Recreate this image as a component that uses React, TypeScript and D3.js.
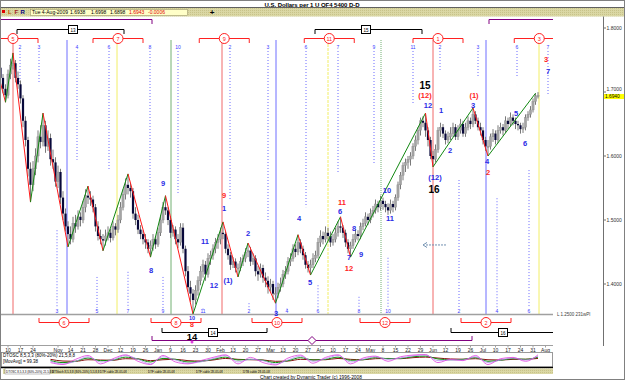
import React from "react";
import * as d3 from "d3";

// ---------- DATA ----------
const opens = [1.738,1.722,1.705,1.695,1.728,1.742,1.745,1.722,1.712,1.690,
1.655,1.625,1.580,1.555,1.580,1.600,1.630,1.622,1.648,1.615,
1.628,1.595,1.590,1.560,1.575,1.535,1.510,1.490,1.478,1.470,
1.495,1.490,1.505,1.500,1.520,1.538,1.535,1.532,1.520,1.490,
1.475,1.470,1.468,1.475,1.480,1.472,1.490,1.485,1.500,1.520,
1.540,1.555,1.550,1.545,1.510,1.500,1.485,1.478,1.470,1.465,
1.455,1.460,1.470,1.462,1.480,1.500,1.520,1.515,1.500,1.480,
1.485,1.470,1.465,1.488,1.455,1.420,1.395,1.385,1.375,1.390,
1.405,1.420,1.430,1.415,1.440,1.445,1.455,1.465,1.470,1.480,
1.478,1.455,1.445,1.430,1.435,1.425,1.425,1.435,1.440,1.450,
1.452,1.435,1.440,1.420,1.415,1.425,1.410,1.405,1.395,1.400,
1.385,1.385,1.395,1.400,1.415,1.420,1.435,1.440,1.455,1.450,
1.465,1.455,1.445,1.430,1.425,1.430,1.440,1.445,1.465,1.475,
1.470,1.480,1.475,1.465,1.470,1.480,1.490,1.488,1.480,1.465,
1.455,1.460,1.470,1.478,1.475,1.490,1.495,1.505,1.500,1.510,
1.515,1.525,1.520,1.530,1.525,1.520,1.515,1.525,1.520,1.535,
1.555,1.570,1.585,1.590,1.595,1.600,1.615,1.625,1.640,1.655,
1.652,1.640,1.625,1.600,1.595,1.610,1.640,1.645,1.635,1.625,
1.630,1.635,1.645,1.630,1.640,1.650,1.635,1.645,1.655,1.650,
1.665,1.655,1.645,1.640,1.625,1.615,1.615,1.630,1.635,1.625,
1.640,1.645,1.640,1.655,1.650,1.660,1.655,1.650,1.648,1.642,
1.645,1.660,1.665,1.672,1.685,1.6938];
const highs = [1.745,1.728,1.712,1.735,1.752,1.761,1.750,1.732,1.718,1.695,
1.662,1.630,1.590,1.592,1.612,1.640,1.648,1.667,1.655,1.640,
1.635,1.610,1.598,1.585,1.580,1.545,1.518,1.498,1.490,1.505,
1.508,1.515,1.512,1.530,1.548,1.553,1.545,1.538,1.525,1.498,
1.485,1.478,1.485,1.490,1.486,1.498,1.495,1.508,1.528,1.548,
1.565,1.572,1.558,1.550,1.520,1.508,1.492,1.484,1.478,1.470,
1.468,1.478,1.475,1.488,1.508,1.528,1.538,1.520,1.506,1.492,
1.490,1.478,1.495,1.495,1.460,1.428,1.405,1.392,1.398,1.412,
1.428,1.438,1.436,1.448,1.452,1.462,1.472,1.478,1.488,1.497,
1.482,1.462,1.450,1.442,1.440,1.432,1.442,1.446,1.456,1.464,
1.458,1.448,1.445,1.428,1.432,1.430,1.418,1.412,1.408,1.405,
1.395,1.402,1.410,1.422,1.428,1.442,1.448,1.462,1.462,1.477,
1.470,1.460,1.450,1.436,1.438,1.448,1.452,1.472,1.484,1.482,
1.490,1.488,1.482,1.478,1.488,1.498,1.505,1.492,1.485,1.470,
1.466,1.478,1.485,1.484,1.496,1.502,1.512,1.510,1.518,1.522,
1.532,1.530,1.538,1.535,1.530,1.526,1.532,1.530,1.540,1.560,
1.575,1.590,1.596,1.600,1.606,1.620,1.632,1.645,1.660,1.662,
1.667,1.645,1.630,1.608,1.618,1.645,1.652,1.650,1.640,1.638,
1.645,1.652,1.650,1.648,1.658,1.655,1.652,1.662,1.660,1.675,
1.670,1.660,1.652,1.645,1.630,1.625,1.635,1.642,1.640,1.648,
1.652,1.650,1.662,1.660,1.668,1.665,1.660,1.655,1.652,1.652,
1.665,1.670,1.678,1.690,1.698,1.6998];
const lows = [1.714,1.698,1.684,1.690,1.720,1.735,1.715,1.705,1.682,1.645,
1.615,1.568,1.528,1.545,1.570,1.590,1.612,1.615,1.605,1.608,
1.585,1.580,1.552,1.550,1.525,1.500,1.482,1.458,1.462,1.465,
1.480,1.485,1.490,1.495,1.512,1.525,1.522,1.512,1.482,1.468,
1.462,1.452,1.460,1.468,1.465,1.468,1.476,1.480,1.495,1.515,
1.532,1.540,1.535,1.502,1.492,1.478,1.470,1.462,1.455,1.448,
1.442,1.452,1.455,1.458,1.475,1.495,1.508,1.492,1.472,1.474,
1.462,1.456,1.460,1.448,1.412,1.388,1.372,1.353,1.368,1.382,
1.398,1.410,1.405,1.410,1.430,1.438,1.448,1.455,1.462,1.470,
1.448,1.438,1.422,1.425,1.418,1.411,1.420,1.428,1.434,1.442,
1.428,1.430,1.412,1.405,1.410,1.402,1.395,1.385,1.388,1.375,
1.370,1.378,1.388,1.395,1.408,1.415,1.428,1.435,1.442,1.445,
1.448,1.438,1.424,1.418,1.414,1.425,1.434,1.440,1.458,1.462,
1.465,1.468,1.458,1.460,1.465,1.474,1.480,1.472,1.458,1.448,
1.442,1.455,1.465,1.468,1.470,1.484,1.490,1.492,1.495,1.504,
1.510,1.512,1.515,1.516,1.512,1.508,1.510,1.512,1.515,1.530,
1.548,1.562,1.575,1.580,1.585,1.595,1.608,1.618,1.632,1.645,
1.630,1.615,1.595,1.583,1.590,1.605,1.630,1.628,1.618,1.620,
1.625,1.630,1.625,1.625,1.635,1.630,1.630,1.640,1.642,1.645,
1.650,1.640,1.632,1.618,1.608,1.600,1.610,1.622,1.618,1.620,
1.635,1.632,1.636,1.642,1.646,1.648,1.642,1.640,1.635,1.636,
1.640,1.655,1.660,1.668,1.680,1.6898];
const closes = [1.722,1.705,1.695,1.728,1.742,1.745,1.722,1.712,1.690,1.655,
1.625,1.580,1.555,1.580,1.600,1.630,1.622,1.648,1.615,1.628,
1.595,1.590,1.560,1.575,1.535,1.510,1.490,1.478,1.470,1.495,
1.490,1.505,1.500,1.520,1.538,1.535,1.532,1.520,1.490,1.475,
1.470,1.468,1.475,1.480,1.472,1.490,1.485,1.500,1.520,1.540,
1.555,1.550,1.545,1.510,1.500,1.485,1.478,1.470,1.465,1.455,
1.460,1.470,1.462,1.480,1.500,1.520,1.515,1.500,1.480,1.485,
1.470,1.465,1.488,1.455,1.420,1.395,1.385,1.375,1.390,1.405,
1.420,1.430,1.415,1.440,1.445,1.455,1.465,1.470,1.480,1.478,
1.455,1.445,1.430,1.435,1.425,1.425,1.435,1.440,1.450,1.452,
1.435,1.440,1.420,1.415,1.425,1.410,1.405,1.395,1.400,1.385,
1.385,1.395,1.400,1.415,1.420,1.435,1.440,1.455,1.450,1.465,
1.455,1.445,1.430,1.425,1.430,1.440,1.445,1.465,1.475,1.470,
1.480,1.475,1.465,1.470,1.480,1.490,1.488,1.480,1.465,1.455,
1.460,1.470,1.478,1.475,1.490,1.495,1.505,1.500,1.510,1.515,
1.525,1.520,1.530,1.525,1.520,1.515,1.525,1.520,1.535,1.555,
1.570,1.585,1.590,1.595,1.600,1.615,1.625,1.640,1.655,1.652,
1.640,1.625,1.600,1.595,1.610,1.640,1.645,1.635,1.625,1.630,
1.635,1.645,1.630,1.640,1.650,1.635,1.645,1.655,1.650,1.665,
1.655,1.645,1.640,1.625,1.615,1.615,1.630,1.635,1.625,1.640,
1.645,1.640,1.655,1.650,1.660,1.655,1.650,1.648,1.642,1.645,
1.660,1.665,1.672,1.685,1.694,1.6943];

const pivotDays = [0,2,5,12,17,27,35,41,51,60,66,77,89,95,99,110,119,124,136,140,170,173,189,195,214];
const pivotPrices = [1.714,1.684,1.761,1.528,1.667,1.458,1.553,1.452,1.572,1.442,1.538,1.353,1.497,1.411,1.464,1.370,1.477,1.414,1.505,1.442,1.667,1.583,1.675,1.600,1.698];

const cycleDays = [5,26.6,46.6,68.2,88.6,110.2,131,152.2,173,194.2,215.4];

const waveDays = [65,60.2,89.4,89.4,81.8,85.4,91,99,119.4,123.8,136.6,135.8,141.4,139.4,139.4,144.2,154.6,155.8,169.8,169.8,171,176.2,179.8,173.8,173.4,189.4,189,194.6,195,206.2,209.8,218.2,219,110.2];
const wavePrices = [1.558,1.422,1.539,1.519,1.467,1.398,1.406,1.480,1.502,1.403,1.528,1.513,1.4875,1.442,1.424,1.447,1.547,1.503,1.710,1.695,1.680,1.672,1.609,1.566,1.548,1.695,1.680,1.591,1.575,1.667,1.620,1.751,1.733,1.3547];
const waveTexts = ["9","8","9","1","11","12","(1)","2","4","5","11","6","8","7","12","9","10","11","15","(12)","12","1","2","(12)","16","(1)","3","4","2","5","6","3","7","3"];
const waveKinds = ["b","b","r","b","b","b","b","b","b","b","r","b","b","b","r","b","b","b","k","r","b","b","b","b","k","r","b","b","r","b","b","r","b","b"];

const topCountDays = [7.8,15.4,30.6,43.4,59.8,71,91.8,107,122.2,135,149.4,165,175.8,191,206.6,219];
const topCountTexts = ["2","3","4","6","8","10","2","3","6","7","9","11","2","3","6","7"];
const topCountEnds = [1.7156,1.7156,1.594,1.578,1.527,1.539,1.531,1.5,1.52,1.575,1.586,1.68,1.734,1.722,1.723,1.695];

const botCountDays = [22.6,38.6,51,65,81,99.4,114.6,127,143.4,155,183.4,198.6,211.4];
const botCountTexts = ["3","5","7","9","11","2","4","6","8","10","2","4","6"];
const botCountTops = [1.484,1.411,1.419,1.411,1.36,1.37,1.36,1.398,1.38,1.441,1.5625,1.534,1.578];

const topCircleDays = [5,47,89.5,131.5,175,215.5];
const topCircleTexts = ["5","7","9","11","1","3"];
const botCircleDays = [25.4,70.2,110.6,153.8,194.2];
const botCircleTexts = ["6","8","10","12","2"];

const topBoxFrom = [6.6,125.8];
const topBoxTo = [49.4,168.6];
const topBoxAt = [29,146.2];
const topBoxTexts = ["13","15"];
const botBoxFrom = [64.6,180.2];
const botBoxTo = [106.6,230];
const botBoxAt = [85,201];
const botBoxTexts = ["14","16"];

const dateDays = [3,8,13,23,28,33,38,43,48,53,58,63,68,73,78,83,88,93,98,103,108,113,118,123,128,133,138,143,148,153,158,163,168,173,178,183,188,193,198,203,208,213,218];
const dateLabels = ["10","17","24","Nov","14","21","28","Dec","12","19","26","Jan","9","16","23","30","Feb","13","20","27","Mar","13","20","27","Apr","10","17","24","May","8","15","22","29","Jun","12","19","26","Jul","10","17","24","31","Aug"];

const priceTicks = [1.4,1.5,1.6,1.7,1.8];
const lastPrice = 1.694;

const oscFast = [30,15,55,85,20,60,90,40,15,85,35,20,45,70,90,20,70,30,12,65,88,25,70,90,20,65,80,40,75,88,92,30,55,45,85,15,60,70,40,90];
const oscViolet = [40,20,40,75,35,50,85,55,20,75,50,25,35,60,85,35,55,45,18,50,80,40,60,85,35,55,75,55,65,82,88,45,50,50,75,30,50,65,50,80];
const oscGreen = [45,30,40,65,45,50,72,58,35,62,55,35,40,55,72,50,55,48,30,45,68,50,55,72,48,52,68,60,62,75,80,58,52,55,68,40,48,60,55,72];
const oscMaroon = [55,42,40,52,50,48,60,58,45,52,55,45,42,50,62,55,52,50,40,42,55,52,52,62,55,52,60,62,60,68,72,65,58,56,60,52,50,55,56,62];

const legendTexts = ["DTOSC 8,5,3,3 (80%-20%) 21,5,8,8","DTStoch 8,5,3,8 (80%-20%) 5,5,8,8","DTF cable 28-05-08","DTF cable 28-05-08","DTF cable 28-05-08","DTB cable 28-05-08"];

// ---------- LAYOUT ----------
const W = 625, H = 380;
const FONT = "'Liberation Sans', Arial, sans-serif";
const x = d3.scaleLinear().domain([0, 215]).range([0.5, 538]);
const y = d3.scaleLinear().domain([1.4, 1.8]).range([284, 28]);
const oscDays = d3.range(20, 216, 5);
const yo = d3.scaleLinear().domain([0, 100]).range([366.5, 353.5]);
const CLIPX = 553;
const PLOT_BOTTOM = 314.5;
const cycleColors = ["#f06868", "#6e6eff", "#f2ee66", "#72b072"];
const waveColor: Record<string, string> = { b: "#2a2ae6", r: "#ff2424", k: "#000000" };
const legendX = [6, 52, 100, 148, 196, 243];

export default function App() {
  const candles = closes.map((c, i) => ({ i, o: opens[i], h: highs[i], l: lows[i], c }));
  const zig = pivotDays.map((d, k) => [x(d), y(pivotPrices[k])] as [number, number]);
  const oscLine = (vals: number[]) =>
    d3.line<number>().x((_, k) => x(oscDays[k])).y((v) => yo(v)).curve(d3.curveMonotoneX)(vals) || "";

  return (
    <div style={{ position: "absolute", left: 0, top: 0, width: W, height: H }}>
      <svg width={W} height={H} style={{ display: "block", fontFamily: FONT }}>
        <defs>
          <clipPath id="plot">
            <rect x={0} y={17} width={CLIPX} height={330} />
          </clipPath>
          <clipPath id="price">
            <rect x={0} y={17} width={CLIPX} height={PLOT_BOTTOM - 17} />
          </clipPath>
          <pattern id="tan" width="2" height="2" patternUnits="userSpaceOnUse">
            <rect width="2" height="2" fill="#dad7a4" />
            <rect width="1" height="1" fill="#c8c38a" />
          </pattern>
        </defs>
        <rect x={0} y={0} width={W} height={H} fill="#ffffff" />

        {/* title row */}
        <text x={312} y={6.5} fontSize={6} fontWeight="bold" textAnchor="middle" textLength={95} fill="#000">
          U.S. Dollars per 1 U QF4 5400 D-D
        </text>
        <rect x={0} y={7.5} width={W} height={9} fill="url(#tan)" />
        <line x1={0} x2={W} y1={7.5} y2={7.5} stroke="#606060" />
        <rect x={2} y={10} width={3} height={3} fill="#e00000" />
        <text x={8} y={14} fontSize={6} fontWeight="bold" fill="#c05000">L</text>
        <text x={14.5} y={14} fontSize={6} fontWeight="bold" fill="#a02020">F</text>
        <text x={20.5} y={14} fontSize={6} fontWeight="bold" fill="#000080">R</text>
        <rect x={30.5} y={9.5} width={157} height={6} fill="#ffffc8" stroke="#908c60" strokeWidth={0.5} />
        <text x={32} y={14.2} fontSize={5} fill="#000">Tue 4-Aug-2009</text>
        <text x={70} y={14.2} fontSize={5} fill="#000">1.6938</text>
        <text x={91} y={14.2} fontSize={5} fill="#000">1.6998</text>
        <text x={110} y={14.2} fontSize={5} fill="#000">1.6898</text>
        <text x={129} y={14.2} fontSize={5} fill="#e00000">1.6943</text>
        <text x={148} y={14.2} fontSize={5} fill="#e00000">-0.0006</text>
        <text x={212} y={15} fontSize={8} fontWeight="bold" textAnchor="middle" fill="#000">+</text>

        {/* right axis */}
        <line x1={603.5} x2={603.5} y1={16.5} y2={346} stroke="#707070" />
        {priceTicks.map((p) => (
          <g key={p}>
            <line x1={603.5} x2={606} y1={y(p)} y2={y(p)} stroke="#707070" />
            <text x={606.5} y={y(p) + (p === 1.7 ? -1 : 1.8)} fontSize={5} fill="#303030">{p.toFixed(4)}</text>
          </g>
        ))}
        <rect x={604} y={y(lastPrice) - 1.8} width={21} height={5} fill="#ffff00" />
        <text x={605} y={y(lastPrice) + 2.2} fontSize={4.8} fill="#000">{lastPrice.toFixed(4)}</text>

        <g clipPath="url(#plot)">
          {/* cycle lines */}
          {cycleDays.map((d, k) => (
            <line key={"cy" + k} x1={x(d)} x2={x(d)} y1={40} y2={PLOT_BOTTOM}
              stroke={cycleColors[k % 4]} strokeWidth={1}
              strokeDasharray={k === 6 ? "3,1" : k === 7 ? "1,1" : "none"} />
          ))}
          {/* top count lines */}
          {topCountDays.map((d, k) => (
            <g key={"tc" + k}>
              <line x1={x(d)} x2={x(d)} y1={51} y2={y(topCountEnds[k])} stroke="#6a6aff" strokeDasharray="1,2" />
              <text x={x(d)} y={49} fontSize={5} textAnchor="middle" fill="#3b3bff">{topCountTexts[k]}</text>
            </g>
          ))}
          {/* bottom count lines */}
          {botCountDays.map((d, k) => (
            <g key={"bc" + k}>
              <line x1={x(d)} x2={x(d)} y1={y(botCountTops[k])} y2={308} stroke="#6a6aff" strokeDasharray="1,2" />
              <text x={x(d)} y={313} fontSize={5} textAnchor="middle" fill="#3b3bff">{botCountTexts[k]}</text>
            </g>
          ))}

          {/* candles */}
          <g clipPath="url(#price)">
            {candles.map((d) => {
              const up = d.c >= d.o;
              const top = y(Math.max(d.o, d.c));
              const bot = y(Math.min(d.o, d.c));
              return (
                <g key={"k" + d.i}>
                  <line x1={x(d.i)} x2={x(d.i)} y1={y(d.h)} y2={y(d.l)} stroke="#7a7a7a" strokeWidth={1} />
                  <rect x={x(d.i) - 1.1} y={top} width={2.2} height={Math.max(1, bot - top)}
                    fill={up ? "#a4a4a4" : "#08083a"} stroke={up ? "#8a8a8a" : "none"} strokeWidth={0.4} />
                </g>
              );
            })}
            {/* zigzag */}
            {zig.slice(1).map((p, k) => {
              const a = zig[k];
              return (
                <line key={"z" + k} x1={a[0]} y1={a[1]} x2={p[0]} y2={p[1]}
                  stroke={p[1] < a[1] ? "#118811" : "#ff1a1a"} strokeWidth={1} />
              );
            })}
          </g>

          {/* price panel bottom */}
          <line x1={0} x2={CLIPX} y1={PLOT_BOTTOM} y2={PLOT_BOTTOM} stroke="#a0a0a0" strokeWidth={1.5} />

          {/* purple brackets */}
          <line x1={0} x2={x(60.6)} y1={19.5} y2={19.5} stroke="#800080" />
          <line x1={x(60.6)} x2={x(60.6)} y1={19.5} y2={24} stroke="#800080" />
          <line x1={x(195.4)} x2={CLIPX} y1={19.5} y2={19.5} stroke="#800080" />
          <line x1={x(195.4)} x2={x(195.4)} y1={19.5} y2={24} stroke="#800080" />
          <line x1={x(60.6)} x2={x(188.6)} y1={340.5} y2={340.5} stroke="#800080" />
          <line x1={x(60.6)} x2={x(60.6)} y1={336} y2={340.5} stroke="#800080" />
          <line x1={x(188.6)} x2={x(188.6)} y1={336} y2={340.5} stroke="#800080" />
          <path d={`M${x(124.6)},336.5 l4,4 l-4,4 l-4,-4 z`} fill="#ffffff" stroke="#800080" />
          <circle cx={x(76.6)} cy={342} r={1.5} fill="#e040e0" />

          {/* black brackets */}
          {topBoxFrom.map((f, k) => (
            <g key={"tb" + k}>
              <line x1={x(f)} x2={x(topBoxTo[k])} y1={29.5} y2={29.5} stroke="#000" />
              <line x1={x(f)} x2={x(f)} y1={29.5} y2={34} stroke="#000" />
              <line x1={x(topBoxTo[k])} x2={x(topBoxTo[k])} y1={29.5} y2={34} stroke="#000" />
              <rect x={x(topBoxAt[k]) - 4.5} y={25.5} width={9} height={8} fill="#fff" stroke="#000" />
              <text x={x(topBoxAt[k])} y={31.5} fontSize={4.5} textAnchor="middle" fill="#000">{topBoxTexts[k]}</text>
            </g>
          ))}
          {botBoxFrom.map((f, k) => (
            <g key={"bb" + k}>
              <line x1={x(f)} x2={x(botBoxTo[k])} y1={332.5} y2={332.5} stroke="#000" />
              <line x1={x(f)} x2={x(f)} y1={328} y2={332.5} stroke="#000" />
              <line x1={x(botBoxTo[k])} x2={x(botBoxTo[k])} y1={328} y2={332.5} stroke="#000" />
              <rect x={x(botBoxAt[k]) - 4.5} y={328.5} width={9} height={8} fill="#fff" stroke="#000" />
              <text x={x(botBoxAt[k])} y={334.5} fontSize={4.5} textAnchor="middle" fill="#000">{botBoxTexts[k]}</text>
            </g>
          ))}
          <text x={x(76.6)} y={339.5} fontSize={9.5} fontWeight="bold" textAnchor="middle" fill="#000">14</text>

          {/* red circle brackets */}
          {topCircleDays.map((d, k) => (
            <g key={"trc" + k}>
              <line x1={x(d - 10)} x2={x(d + 10)} y1={38.5} y2={38.5} stroke="#ff2020" />
              <line x1={x(d - 10)} x2={x(d - 10)} y1={38.5} y2={43} stroke="#ff2020" />
              <line x1={x(d + 10)} x2={x(d + 10)} y1={38.5} y2={43} stroke="#ff2020" />
              <circle cx={x(d)} cy={38.5} r={5} fill="#fff" stroke="#ff2020" />
              <text x={x(d)} y={40.5} fontSize={5.5} textAnchor="middle" fill="#ff2020">{topCircleTexts[k]}</text>
            </g>
          ))}
          {botCircleDays.map((d, k) => (
            <g key={"brc" + k}>
              <line x1={x(d - 10)} x2={x(d + 10)} y1={322.5} y2={322.5} stroke="#ff2020" />
              <line x1={x(d - 10)} x2={x(d - 10)} y1={318} y2={322.5} stroke="#ff2020" />
              <line x1={x(d + 10)} x2={x(d + 10)} y1={318} y2={322.5} stroke="#ff2020" />
              <circle cx={x(d)} cy={322.5} r={5} fill="#fff" stroke="#ff2020" />
              <text x={x(d)} y={324.5} fontSize={5.5} textAnchor="middle" fill="#ff2020">{botCircleTexts[k]}</text>
            </g>
          ))}
          <text x={x(76.6)} y={320} fontSize={5.5} fontWeight="bold" textAnchor="middle" fill="#2a2ae6">10</text>
          <text x={x(76.6)} y={326.5} fontSize={7} fontWeight="bold" textAnchor="middle" fill="#ff2424">8</text>

          {/* wave labels */}
          {waveDays.map((d, k) => (
            <text key={"w" + k} x={x(d)} y={y(wavePrices[k]) + (waveKinds[k] === "k" ? 3.5 : 2.7)}
              fontSize={waveKinds[k] === "k" ? 10 : 7.5} fontWeight="bold" textAnchor="middle"
              fill={waveColor[waveKinds[k]]}>{waveTexts[k]}</text>
          ))}

          {/* arrow */}
          <line x1={x(169) + 3} x2={x(178.6)} y1={y(1.461)} y2={y(1.461)} stroke="#7090b0" strokeDasharray="2,1" />
          <path d={`M${x(169)},${y(1.461)} l4,-2.5 M${x(169)},${y(1.461)} l4,2.5`} stroke="#7090b0" fill="none" />
        </g>
        <text x={557} y={316} fontSize={4.5} fill="#404040">L 1.2500 231wPl</text>

        {/* date axis */}
        <line x1={0} x2={CLIPX} y1={345.5} y2={345.5} stroke="#a0a0a0" />
        {dateLabels.map((t, k) => (
          <g key={"dl" + k}>
            <line x1={x(dateDays[k])} x2={x(dateDays[k])} y1={345.5} y2={347.5} stroke="#a0a0a0" />
            <text x={x(dateDays[k])} y={351.5} fontSize={5} textAnchor="middle" fill="#202020">{t}</text>
          </g>
        ))}

        {/* indicator panel */}
        <rect x={1.5} y={352.5} width={551} height={14.5} fill="#fff" stroke="#808080" strokeWidth={0.8} />
        <line x1={0} x2={553} y1={367.5} y2={367.5} stroke="#000" strokeWidth={1.5} />
        <path d={oscLine(oscMaroon)} fill="none" stroke="#8b1010" strokeWidth={1} />
        <path d={oscLine(oscGreen)} fill="none" stroke="#109010" strokeWidth={1} />
        <path d={oscLine(oscViolet)} fill="none" stroke="#b090f0" strokeWidth={0.8} />
        <path d={oscLine(oscFast)} fill="none" stroke="#e040e0" strokeWidth={0.8} />
        <text x={3} y={357} fontSize={4.5} fill="#000">DTOSC 8,5,3,3 (80%-20%) 21,5,8,8</text>
        <text x={3} y={363} fontSize={4.5} fill="#000">[MovAvg] = 99.38</text>

        {/* legend strip */}
        <rect x={3} y={368.5} width={550} height={5.5} fill="url(#tan)" />
        <rect x={5} y={368.5} width={45} height={5.5} fill="#fff" stroke="#808080" strokeWidth={0.5} />
        <text y={372.8} fontSize={3} fill="#000">
          {legendTexts.map((t, k) => (
            <tspan key={"lg" + k} x={legendX[k]}>{t}</tspan>
          ))}
        </text>
        <text x={260} y={378.7} fontSize={4.8} fill="#000">Chart created by Dynamic Trader  (c) 1996-2008</text>

        {/* outer frame */}
        <rect x={0.5} y={0.5} width={W - 1} height={H - 1} fill="none" stroke="#808080" />
      </svg>
    </div>
  );
}
